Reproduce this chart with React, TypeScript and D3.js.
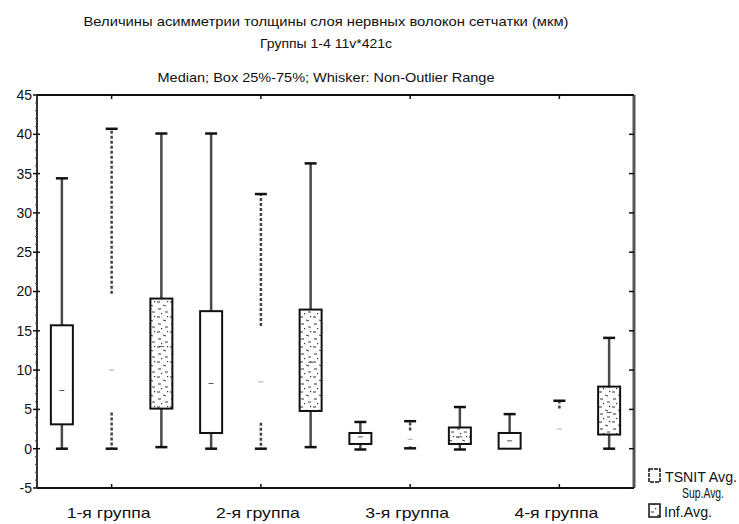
import React from "react";
import * as d3 from "d3";

const title1 = "Величины асимметрии толщины слоя нервных волокон сетчатки (мкм)";
const title2 = "Группы 1-4 11v*421c";
const title3 = "Median; Box 25%-75%; Whisker: Non-Outlier Range";

const groups = ["1-я группа", "2-я группа", "3-я группа", "4-я группа"];
const seriesNames = ["TSNIT Avg.", "Sup.Avg.", "Inf.Avg."];
const yTicks = [-5, 0, 5, 10, 15, 20, 25, 30, 35, 40, 45];

const tsnitMin = [0, 0, -0.1, 0];
const tsnitQ1 = [3.1, 2.0, 0.6, 0];
const tsnitMed = [7.4, 8.3, 1.5, 1.0];
const tsnitQ3 = [15.7, 17.5, 2.0, 2.0];
const tsnitMax = [34.4, 40.1, 3.4, 4.4];

const supMin = [0, 0, 0.05, 0];
const supQ1 = [4.6, 3.3, 0.3, 0];
const supMed = [10.0, 8.5, 1.2, 2.5];
const supQ3 = [19.7, 15.6, 2.3, 5.1];
const supMax = [40.7, 32.4, 3.5, 6.1];

const infMin = [0.2, 0.2, -0.1, 0];
const infQ1 = [5.1, 4.8, 0.6, 1.8];
const infMed = [13.0, 11.0, 1.5, 4.6];
const infQ3 = [19.1, 17.7, 2.7, 7.9];
const infMax = [40.1, 36.3, 5.3, 14.1];

const seriesData = [
  { name: seriesNames[0], min: tsnitMin, q1: tsnitQ1, med: tsnitMed, q3: tsnitQ3, max: tsnitMax },
  { name: seriesNames[1], min: supMin, q1: supQ1, med: supMed, q3: supQ3, max: supMax },
  { name: seriesNames[2], min: infMin, q1: infQ1, med: infMed, q3: infQ3, max: infMax },
];

const W = 739;
const H = 524;
const L = 37, R = 634, T = 95, B = 488;
const FONT = "'Liberation Sans', Arial, sans-serif";

export default function App() {
  const y = d3.scaleLinear().domain([-5, 45]).range([B, T]);
  const xg = d3.scaleBand<string>().domain(groups).range([L, R]).padding(0);
  const xs = d3.scaleBand<string>().domain(seriesNames).range([0, xg.bandwidth()]).padding(0);
  const boxW = 22;
  const capW = 12;

  const minorTicks = d3.range(-5, 45, 1).filter((v) => v % 5 !== 0);

  return (
    <svg width={W} height={H} style={{ position: "absolute", left: 0, top: 0, background: "#fff" }}>
      <defs>
        <pattern id="dots" width="13" height="15" patternUnits="userSpaceOnUse">
          <rect width="13" height="15" fill="#fff" />
          <line x1="1" y1="2" x2="4" y2="2" stroke="#333" strokeWidth="1" />
          <line x1="7" y1="5" x2="10" y2="6" stroke="#444" strokeWidth="1" />
          <line x1="2" y1="9" x2="5" y2="9" stroke="#333" strokeWidth="1" />
          <line x1="9" y1="12" x2="12" y2="12" stroke="#444" strokeWidth="1" />
          <rect x="5" y="13" width="1.2" height="1.2" fill="#333" />
          <rect x="11" y="1" width="1.2" height="1.2" fill="#333" />
        </pattern>
      </defs>

      <g fontFamily={FONT} fill="#111" textAnchor="middle">
        <text x={326} y={26} fontSize={13} textLength={485} lengthAdjust="spacingAndGlyphs">{title1}</text>
        <text x={326} y={48} fontSize={13} textLength={132} lengthAdjust="spacingAndGlyphs">{title2}</text>
        <text x={326} y={82} fontSize={13} textLength={337} lengthAdjust="spacingAndGlyphs">{title3}</text>
      </g>

      {/* Boxes */}
      {seriesData.map((s, si) =>
        groups.map((g, gi) => {
          const cx = (xg(g) as number) + (xs(s.name) as number) + xs.bandwidth() / 2;
          const isSup = si === 1;
          const whiskerStroke = isSup ? "#444" : "#4a4a4a";
          const dash = isSup ? "3,2" : undefined;
          const fill = si === 2 ? "url(#dots)" : "#fff";
          const yMin = y(s.min[gi]);
          const yQ1 = y(s.q1[gi]);
          const yMed = y(s.med[gi]);
          const yQ3 = y(s.q3[gi]);
          const yMax = y(s.max[gi]);
          return (
            <g key={`${si}-${gi}`}>
              <line x1={cx} x2={cx} y1={yQ3} y2={yMax} stroke={whiskerStroke} strokeWidth={2.5} strokeDasharray={dash} />
              <line x1={cx - capW / 2} x2={cx + capW / 2} y1={yMax} y2={yMax} stroke="#111" strokeWidth={2.5} />
              {s.q1[gi] - s.min[gi] > 0.02 && (
                <>
                  <line x1={cx} x2={cx} y1={yQ1} y2={yMin} stroke={whiskerStroke} strokeWidth={2.5} strokeDasharray={dash} />
                  <line x1={cx - capW / 2} x2={cx + capW / 2} y1={yMin} y2={yMin} stroke="#111" strokeWidth={2.5} />
                </>
              )}
              {!isSup && (
                <rect
                  x={cx - boxW / 2}
                  y={yQ3}
                  width={boxW}
                  height={Math.max(1, yQ1 - yQ3)}
                  fill={fill}
                  stroke="#111"
                  strokeWidth={2}
                />
              )}
              <line
                x1={cx - 2.5}
                x2={cx + 2.5}
                y1={yMed}
                y2={yMed}
                stroke={isSup ? "#aaa" : "#555"}
                strokeWidth={1}
              />
            </g>
          );
        })
      )}

      {/* Axes frame */}
      <line x1={L} x2={R} y1={T} y2={T} stroke="#111" strokeWidth={2} />
      <line x1={L} x2={R} y1={B} y2={B} stroke="#111" strokeWidth={2} />
      <line x1={L} x2={L} y1={T} y2={B} stroke="#333" strokeWidth={2} />
      <line x1={R} x2={R} y1={T} y2={B} stroke="#555" strokeWidth={3} />

      {/* Y ticks */}
      {yTicks.map((v) => (
        <g key={v}>
          <line x1={L - 4} x2={L + 3} y1={y(v)} y2={y(v)} stroke="#111" strokeWidth={1.5} />
          <line x1={R - 5} x2={R} y1={y(v)} y2={y(v)} stroke="#111" strokeWidth={1.5} />
          <text x={L - 5} y={y(v)} dy="0.35em" fontSize={14} fontFamily={FONT} textAnchor="end" fill="#111">
            {v}
          </text>
        </g>
      ))}
      {minorTicks.map((v) => (
        <line key={`m${v}`} x1={L - 2} x2={L + 1} y1={y(v)} y2={y(v)} stroke="#444" strokeWidth={1} />
      ))}

      {/* X ticks & labels */}
      {groups.map((g) => {
        const cx = (xg(g) as number) + xg.bandwidth() / 2;
        return (
          <g key={g}>
            <line x1={cx} x2={cx} y1={B} y2={B - 4} stroke="#111" strokeWidth={1.5} />
            <line x1={cx} x2={cx} y1={T} y2={T + 4} stroke="#111" strokeWidth={1.5} />
            <text x={cx - 3} y={518} fontSize={15} fontFamily={FONT} textAnchor="middle" fill="#111" textLength={84} lengthAdjust="spacingAndGlyphs">
              {g}
            </text>
          </g>
        );
      })}

      {/* Legend */}
      <g fontFamily={FONT} fontSize={14} fill="#111">
        <rect x={649} y={469} width={11} height={13} fill="#fff" stroke="#111" strokeWidth={1.5} strokeDasharray="4,1" />
        <text x={665} y={481.5} textLength={72} lengthAdjust="spacingAndGlyphs">{seriesNames[0]}</text>
        <text x={682} y={497.5} textLength={42} lengthAdjust="spacingAndGlyphs">{seriesNames[1]}</text>
        <rect x={649} y={504} width={11} height={13} fill="url(#dots)" stroke="#111" strokeWidth={1.5} />
        <text x={664} y={516.5} textLength={48} lengthAdjust="spacingAndGlyphs">{seriesNames[2]}</text>
      </g>
    </svg>
  );
}
